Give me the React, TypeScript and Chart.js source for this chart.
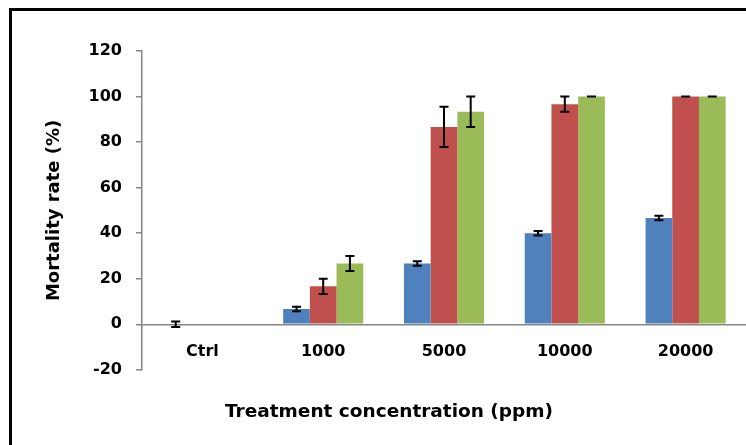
import React, { useEffect, useRef } from "react";
import { Chart, registerables } from "chart.js";

Chart.register(...registerables);

const categories = ["Ctrl", "1000", "5000", "10000", "20000"];
const seriesA = [0, 6.67, 26.67, 40, 46.67];
const seriesB = [0, 16.67, 86.67, 96.67, 100];
const seriesC = [0, 26.67, 93.33, 100, 100];
const errorsA = [1.2, 1, 1, 1, 1];
const errorsB = [null, 3.33, 8.82, 3.33, 0];
const errorsC = [null, 3.33, 6.67, 0, 0];
const yTicks = [-20, 0, 20, 40, 60, 80, 100, 120];

const FONT = "'DejaVu Sans', sans-serif";
const AXIS_COLOR = "#868686";

const errorBarPlugin = {
  id: "errorBars",
  afterDatasetsDraw(chart: any) {
    const ctx = chart.ctx;
    const yScale = chart.scales.y;
    chart.data.datasets.forEach((ds: any, i: number) => {
      const meta = chart.getDatasetMeta(i);
      const errs = ds.errors as (number | null)[];
      meta.data.forEach((el: any, j: number) => {
        const e = errs[j];
        const v = ds.data[j];
        if (e === null || e === undefined || v === null) return;
        const x = el.x;
        const yt = yScale.getPixelForValue(v + e);
        const yb = yScale.getPixelForValue(v - e);
        const half = 4.5;
        ctx.save();
        ctx.strokeStyle = "#000";
        ctx.lineWidth = 2;
        ctx.beginPath();
        ctx.moveTo(x, yt);
        ctx.lineTo(x, yb);
        ctx.moveTo(x - half, yt);
        ctx.lineTo(x + half, yt);
        ctx.moveTo(x - half, yb);
        ctx.lineTo(x + half, yb);
        ctx.stroke();
        ctx.restore();
      });
    });
  },
};

export default function App() {
  const ref = useRef<HTMLCanvasElement | null>(null);

  useEffect(() => {
    if (!ref.current) return;
    const chart = new Chart(ref.current, {
      type: "bar",
      data: {
        labels: categories,
        datasets: [
          { data: seriesA, backgroundColor: "#4F81BD", errors: errorsA } as any,
          { data: seriesB, backgroundColor: "#C0504D", errors: errorsB } as any,
          { data: seriesC, backgroundColor: "#9BBB59", errors: errorsC } as any,
        ],
      },
      options: {
        animation: false,
        responsive: false,
        devicePixelRatio: 1,
        layout: { padding: { top: 51, left: 32, right: 0, bottom: 22 } },
        datasets: {
          bar: { categoryPercentage: 0.663, barPercentage: 1 },
        },
        plugins: {
          legend: { display: false },
          tooltip: { enabled: false },
          title: {
            display: true,
            position: "bottom",
            text: "Treatment concentration (ppm)",
            color: "#000",
            font: { family: FONT, size: 18.5, weight: "bold" },
            padding: { top: 31, bottom: 0 },
          },
        },
        scales: {
          x: {
            position: { y: 0 } as any,
            afterFit: (s: any) => {
              s.height = 10;
            },
            grid: { display: true, drawOnChartArea: false, drawTicks: false },
            border: { display: true, color: AXIS_COLOR, width: 1.5 },
            ticks: {
              color: "#000",
              padding: 18,
              font: { family: FONT, size: 16, weight: "bold" },
            },
          },
          y: {
            min: -20,
            max: 120,
            afterFit: (s: any) => {
              s.width = 110;
            },
            afterBuildTicks: (s: any) => {
              s.ticks = yTicks.map((v) => ({ value: v }));
            },
            grid: {
              display: true,
              drawOnChartArea: false,
              drawTicks: true,
              tickLength: 6,
              color: AXIS_COLOR,
              lineWidth: 1.5,
            },
            border: { display: true, color: AXIS_COLOR, width: 1.5 },
            ticks: {
              color: "#000",
              padding: 14,
              font: { family: FONT, size: 16, weight: "bold" },
            },
            title: {
              display: true,
              text: "Mortality rate (%)",
              color: "#000",
              font: { family: FONT, size: 18, weight: "bold" },
              padding: { top: 12, bottom: 0 },
            },
          },
        },
      },
      plugins: [errorBarPlugin],
    });
    return () => chart.destroy();
  }, []);

  return (
    <div
      style={{
        position: "fixed",
        left: 0,
        top: 0,
        width: 746,
        height: 445,
        overflow: "hidden",
        background: "#fff",
      }}
    >
      <div
        style={{
          position: "absolute",
          left: 9,
          top: 8,
          width: 800,
          height: 500,
          borderTop: "3px solid #000",
          borderLeft: "3px solid #000",
        }}
      />
      <canvas
        ref={ref}
        width={746}
        height={445}
        style={{ position: "absolute", left: 0, top: 0, width: 746, height: 445 }}
      />
    </div>
  );
}
